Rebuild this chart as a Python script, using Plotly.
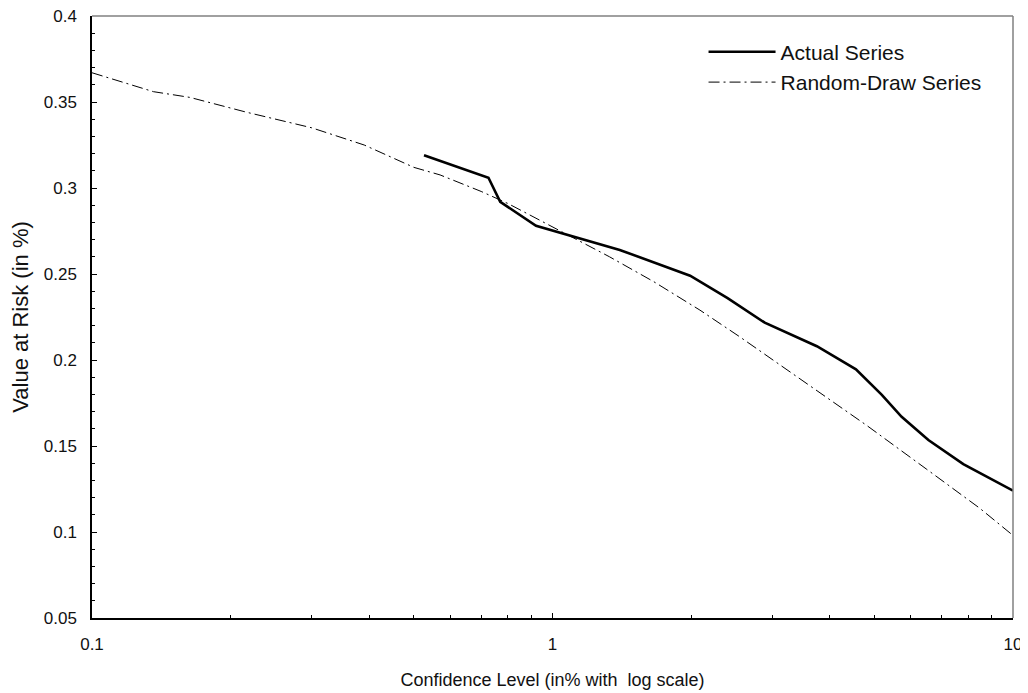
import plotly.graph_objects as go

# Actual series (confidence level in %, VaR in %)
actual_x = [0.526, 0.726, 0.77, 0.921, 1.40, 1.99, 2.4, 2.89, 3.75, 4.56, 5.19, 5.73, 6.55, 7.8, 10.0]
actual_y = [0.319, 0.306, 0.292, 0.278, 0.264, 0.249, 0.236, 0.2217, 0.208, 0.1946, 0.1797, 0.167, 0.1535, 0.1395, 0.124]

# Random-draw series
random_x = [0.1, 0.136, 0.163, 0.217, 0.3, 0.39, 0.5, 0.57, 0.7, 0.8, 1.04, 1.33, 1.66, 2.09, 2.55, 3.3, 4.81, 6.5, 8.47, 10.0]
random_y = [0.367, 0.356, 0.3527, 0.344, 0.335, 0.325, 0.312, 0.3076, 0.298, 0.291, 0.275, 0.26, 0.2455, 0.229, 0.2135, 0.1926, 0.162, 0.1364, 0.1138, 0.098]

x_ticks = [0.1, 1, 10]
x_tick_labels = ["0.1", "1", "10"]
x_minor = [0.2, 0.3, 0.4, 0.5, 0.6, 0.7, 0.8, 0.9, 2, 3, 4, 5, 6, 7, 8, 9]
y_ticks = [0.05, 0.1, 0.15, 0.2, 0.25, 0.3, 0.35, 0.4]
y_tick_labels = ["0.05", "0.1", "0.15", "0.2", "0.25", "0.3", "0.35", "0.4"]

FONT = "Liberation Sans, Arial, sans-serif"

fig = go.Figure()
fig.add_trace(go.Scatter(x=actual_x, y=actual_y, mode="lines", name="Actual Series",
                         line=dict(color="black", width=2.6)))
fig.add_trace(go.Scatter(x=random_x, y=random_y, mode="lines", name="Random-Draw Series",
                         line=dict(color="black", width=1, dash="11px,4px,2px,4px")))

# the page body adds an 8px offset, so margins are compensated for it
fig.update_layout(
    width=1028, height=693,
    margin=dict(l=84, r=23, t=8, b=83, autoexpand=False),
    paper_bgcolor="white", plot_bgcolor="white",
    font=dict(family=FONT, size=17, color="#111111"),
    showlegend=True,
    legend=dict(x=0.664, y=0.974, xanchor="left", yanchor="top", itemwidth=67,
                bgcolor="rgba(0,0,0,0)", font=dict(size=21), tracegroupgap=0),
    xaxis=dict(type="log", range=[-1, 1], tickvals=x_ticks, ticktext=x_tick_labels,
               ticks="inside", ticklen=5, tickcolor="black", tickwidth=1,
               minor=dict(tickvals=x_minor, ticks="inside", ticklen=3, tickcolor="black"),
               showline=True, linecolor="black", linewidth=1.5, showgrid=False, zeroline=False,
               ticklabelstandoff=10, tickfont=dict(size=17), ticklabeloverflow="allow",
               title=dict(text="Confidence Level (in% with  log scale)", standoff=20,
                          font=dict(size=18))),
    yaxis=dict(range=[0.05, 0.4], tickvals=y_ticks, ticktext=y_tick_labels,
               ticks="inside", ticklen=5, tickcolor="black", tickwidth=1,
               minor=dict(dtick=0.01, ticks="inside", ticklen=3, tickcolor="black"),
               showline=True, linecolor="black", linewidth=1.5, showgrid=False, zeroline=False,
               ticklabelstandoff=10, tickfont=dict(size=17), ticklabeloverflow="allow",
               title=dict(text="Value at Risk (in %)", standoff=12, font=dict(size=22))),
)

# grey top and right borders
fig.add_shape(type="line", xref="paper", yref="paper", x0=0, x1=1, y0=1, y1=1,
              line=dict(color="#808080", width=1.5))
fig.add_shape(type="line", xref="paper", yref="paper", x0=1, x1=1, y0=0, y1=1,
              line=dict(color="#808080", width=1.5))

fig.write_html("out.html")
